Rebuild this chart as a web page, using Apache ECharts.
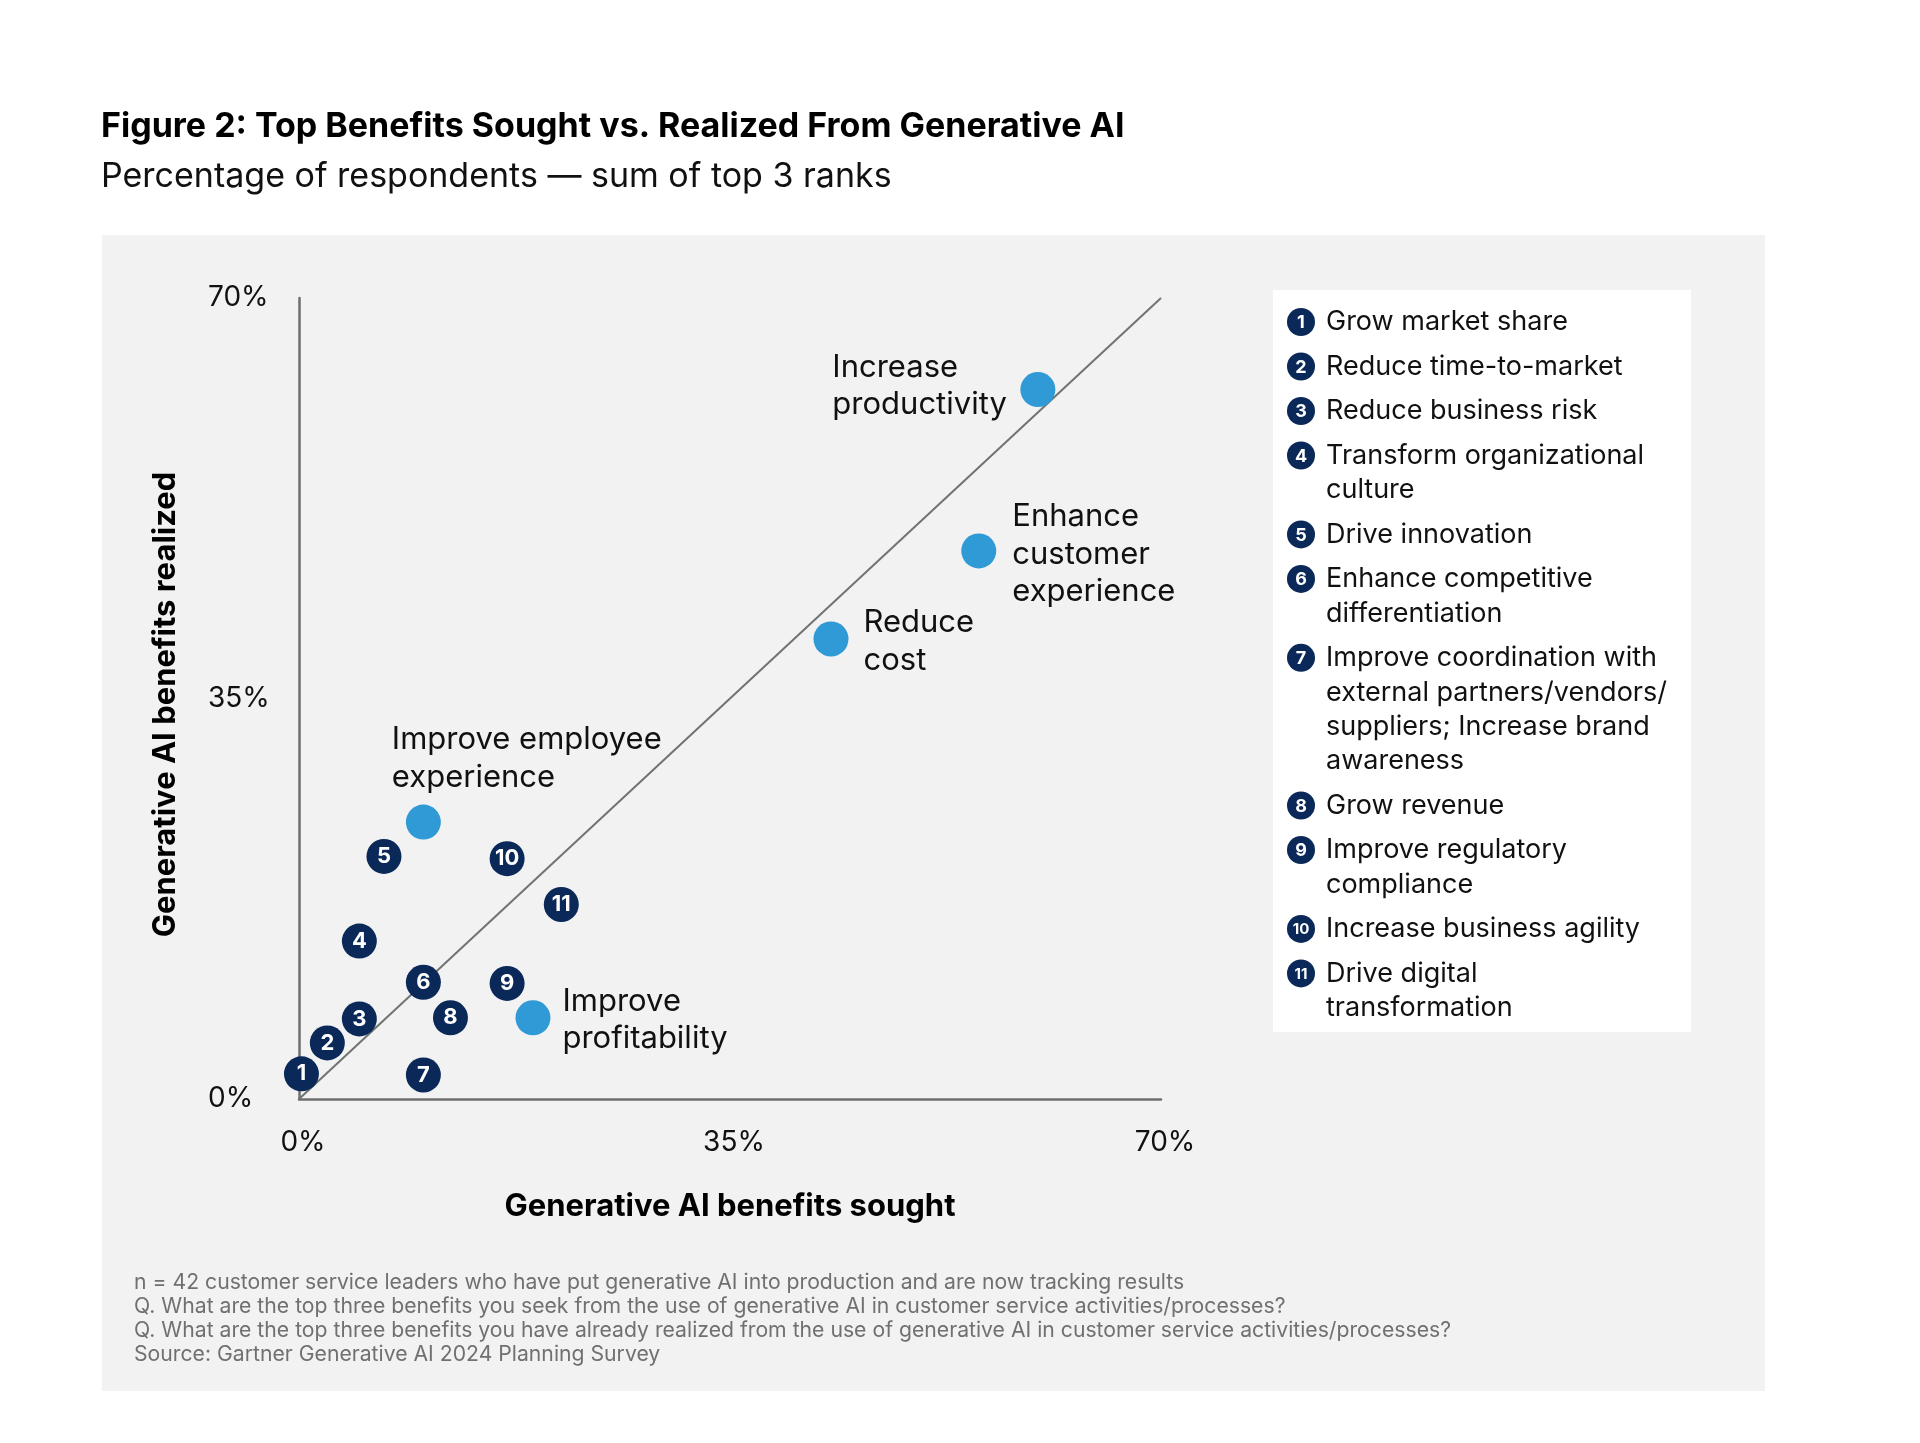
<!DOCTYPE html>
<html>
<head>
<meta charset="utf-8">
<script src="https://cdn.jsdelivr.net/npm/echarts@6/dist/echarts.min.js"></script>
<style>
  html, body { margin: 0; padding: 0; background: #fff; }
  #chart { width: 1920px; height: 1443px; }
</style>
</head>
<body>
<div id="chart"></div>
<script>
// numbered benefits (navy badges)
const benefitNames = [
  'Grow market share',
  'Reduce time-to-market',
  'Reduce business risk',
  'Transform organizational\nculture',
  'Drive innovation',
  'Enhance competitive\ndifferentiation',
  'Improve coordination with\nexternal partners/vendors/\nsuppliers; Increase brand\nawareness',
  'Grow revenue',
  'Improve regulatory\ncompliance',
  'Increase business agility',
  'Drive digital\ntransformation'
];
const benefitSought   = [0.2, 2.3, 4.9, 4.9, 6.9, 10.1, 10.1, 12.3, 16.9, 16.9, 21.3];
const benefitRealized = [2.2, 4.9, 7.0, 13.8, 21.2, 10.2, 2.1, 7.1, 10.1, 21.0, 17.0];

// highlighted benefits (blue dots with labels)
const topNames = ['Improve employee\nexperience', 'Improve\nprofitability', 'Reduce\ncost', 'Enhance\ncustomer\nexperience', 'Increase\nproductivity'];
const topSought   = [10.1, 19.0, 43.2, 55.2, 60.0];
const topRealized = [24.2, 7.1, 40.2, 47.9, 62.0];

const axisTicks = [0, 35, 70];

const footnotes = [
  'n = 42 customer service leaders who have put generative AI into production and are now tracking results',
  'Q. What are the top three benefits you seek from the use of generative AI in customer service activities/processes?',
  'Q. What are the top three benefits you have already realized from the use of generative AI in customer service activities/processes?',
  'Source: Gartner Generative AI 2024 Planning Survey'
];

const FONT = 'Inter';
const NAVY = '#0a2858';
const BLUE = '#2f9ad6';
const AXIS = '#6c6f71';

const chart = echarts.init(document.getElementById('chart'));

// label placement for the blue dots (layout only)
const topLabelPos = [
  [-14, -46],
  [47, 20],
  [50, 20],
  [51, 21],
  [-188, 14]
];

const topData = topNames.map((name, i) => ({
  name,
  value: [topSought[i], topRealized[i]],
  label: { show: true, formatter: name, position: topLabelPos[i] }
}));

const badgeData = benefitNames.map((name, i) => ({
  name,
  value: [benefitSought[i], benefitRealized[i]],
  num: String(i + 1)
}));

// legend panel built from benefitNames
const legendGraphics = [];
let ly = 322;
benefitNames.forEach((name, i) => {
  const lines = name.split('\n').length;
  legendGraphics.push({
    type: 'circle',
    shape: { cx: 1301, cy: ly, r: 14 },
    style: { fill: NAVY },
    z: 20
  });
  legendGraphics.push({
    type: 'text',
    style: {
      text: String(i + 1), x: 1301, y: ly + 1, align: 'center', verticalAlign: 'middle',
      fill: '#fff', font: 'bold ' + (i < 9 ? 18 : 15) + 'px ' + FONT
    },
    z: 21
  });
  legendGraphics.push({
    type: 'text',
    style: {
      text: name, x: 1326, y: ly - 17, verticalAlign: 'top', lineHeight: 34.4,
      fill: '#111', font: '27px ' + FONT
    },
    z: 21
  });
  ly += 34.4 * (lines - 1) + 44.5;
});

const option = {
  backgroundColor: '#fff',
  animation: false,
  textStyle: { fontFamily: FONT },
  title: {
    text: 'Figure 2: Top Benefits Sought vs. Realized From Generative AI',
    subtext: 'Percentage of respondents — sum of top 3 ranks',
    left: 96,
    top: 105,
    itemGap: 16,
    textStyle: { fontFamily: FONT, fontWeight: 'bold', fontSize: 34, color: '#000' },
    subtextStyle: { fontFamily: FONT, fontSize: 34, color: '#111' }
  },
  graphic: [
    { type: 'rect', shape: { x: 102, y: 235, width: 1663, height: 1156 }, style: { fill: '#f2f2f2' }, z: -10, silent: true },
    { type: 'rect', shape: { x: 1273, y: 290, width: 418, height: 742 }, style: { fill: '#fff' }, z: 10, silent: true },
    {
      type: 'text',
      style: {
        text: footnotes.join('\n'), x: 134, y: 1270, verticalAlign: 'top', lineHeight: 24.3,
        fill: '#707070', font: '21.2px ' + FONT
      },
      z: 10
    }
  ].concat(legendGraphics),
  grid: { left: 299, right: 759, top: 298, bottom: 344, containLabel: false },
  xAxis: {
    type: 'value',
    min: axisTicks[0],
    max: axisTicks[axisTicks.length - 1],
    interval: axisTicks[1] - axisTicks[0],
    name: 'Generative AI benefits sought',
    nameLocation: 'middle',
    nameGap: 92,
    nameTextStyle: { fontFamily: FONT, fontWeight: 'bold', fontSize: 31, color: '#000' },
    axisLine: { show: true, lineStyle: { color: AXIS, width: 2.5 } },
    axisTick: { show: false },
    splitLine: { show: false },
    axisLabel: { formatter: '{value}%', fontFamily: FONT, fontSize: 28, color: '#111', margin: 30, padding: [0, 0, 0, 8] }
  },
  yAxis: {
    type: 'value',
    min: axisTicks[0],
    max: axisTicks[axisTicks.length - 1],
    interval: axisTicks[1] - axisTicks[0],
    name: 'Generative AI benefits realized',
    nameLocation: 'middle',
    nameRotate: 90,
    nameGap: 118,
    nameTextStyle: { fontFamily: FONT, fontWeight: 'bold', fontSize: 31, color: '#000', padding: [0, 12, 0, 0] },
    axisLine: { show: true, lineStyle: { color: AXIS, width: 2.5 } },
    axisTick: { show: false },
    splitLine: { show: false },
    axisLabel: { formatter: '{value}%', fontFamily: FONT, fontSize: 28, color: '#111', align: 'left', margin: 91, padding: [10, 0, 0, 0] }
  },
  series: [
    {
      // parity line sought = realized
      type: 'line',
      data: [[axisTicks[0], axisTicks[0]], [axisTicks[2], axisTicks[2]]],
      symbol: 'none',
      lineStyle: { color: '#6f7472', width: 2 },
      z: 1,
      silent: true
    },
    {
      type: 'scatter',
      data: badgeData,
      symbolSize: 35,
      itemStyle: { color: NAVY, opacity: 1 },
      label: {
        show: true,
        position: 'inside',
        formatter: p => p.data.num,
        color: '#fff',
        fontFamily: FONT,
        fontWeight: 'bold',
        fontSize: 22
      },
      z: 3
    },
    {
      type: 'scatter',
      data: topData,
      symbolSize: 35,
      itemStyle: { color: BLUE, opacity: 1 },
      label: {
        color: '#111',
        fontFamily: FONT,
        fontSize: 31,
        lineHeight: 37.5,
        align: 'left',
        verticalAlign: 'middle'
      },
      z: 4
    }
  ]
};

chart.setOption(option);
</script>
</body>
</html>
